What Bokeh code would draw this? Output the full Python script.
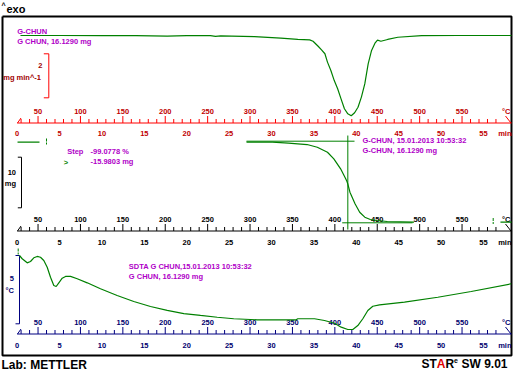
from bokeh.plotting import figure
from bokeh.models import Range1d
from bokeh.embed import file_html
from bokeh.resources import INLINE
from bokeh.core.properties import value

# ---------------- data ----------------
# DTG curve (mg/min) versus time (min)
dtg_time = [0.40, 5.0, 10.0, 14.0, 17.7, 20.0, 22.8, 23.4, 24.0, 28.0, 31.1, 33.1,
            34.5, 34.9, 35.5, 35.9, 36.3, 36.6, 37.0, 37.4, 37.8, 38.2, 38.6, 39.0,
            39.4, 39.8, 40.2, 40.6, 41.0, 41.4, 41.8, 42.2, 42.5, 42.9, 43.7, 44.9,
            47.7, 52.0, 58.3]
dtg_val = [0.00, 0.00, -0.01, -0.01, -0.03, -0.01, -0.01, -0.04, -0.02, -0.05, -0.12, -0.18,
           -0.20, -0.26, -0.49, -0.65, -0.83, -1.21, -1.59, -2.05, -2.42, -2.88, -3.33, -3.56,
           -3.65, -3.51, -3.26, -2.80, -2.20, -1.29, -0.68, -0.35, -0.21, -0.26, -0.18, -0.08,
           -0.01, 0.00, 0.00]

# TGA curve (mg) versus time (min), shown in three pieces
tga_time_start = [0.05, 2.64]
tga_mass_start = [16.13, 16.13]
tga_time = [27.05, 30.1, 32.0, 34.2, 35.4, 36.6, 37.35, 38.15, 38.75, 38.9, 39.0, 39.25,
            39.85, 40.4, 41.0, 41.65, 42.45, 43.65, 46.8]
tga_mass = [16.13, 16.13, 15.93, 15.67, 15.14, 14.15, 12.85, 10.87, 8.90, 8.36, 7.87, 6.25,
            3.96, 2.29, 1.31, 0.85, 0.66, 0.46, 0.32]
tga_time_end = [57.0, 58.3]
tga_mass_end = [0.32, 0.32]

# step evaluation
step_time = 39.0
step_top_mass = 16.33
step_top_span = [27.05, 39.79]
step_bottom_mass = 0.20
step_bottom_span = [38.34, 46.63]
step_vertical_span = [17.45, -1.13]

# SDTA curve (degC) versus time (min)
sdta_time = [0.28, 0.60, 1.19, 1.58, 1.97, 2.37, 2.76, 3.15, 3.55, 3.94, 4.33, 4.61,
             4.92, 5.32, 5.71, 6.30, 7.09, 8.27, 9.83, 11.80, 13.76, 15.73, 17.70, 19.66,
             21.63, 23.60, 25.55, 28.31, 32.91, 33.10, 35.07, 36.25, 37.43, 38.22, 39.00,
             39.59, 40.18, 40.77, 41.36, 41.95, 42.74, 45.68, 49.61, 53.55, 58.27]
sdta_val = [4.78, 4.54, 4.24, 4.34, 4.61, 4.71, 4.65, 4.41, 3.92, 3.18, 2.57, 2.50,
            2.77, 3.11, 3.24, 3.24, 3.07, 2.77, 2.33, 1.84, 1.40, 1.03, 0.74, 0.51,
            0.37, 0.24, 0.13, 0.05, 0.05, 0.13, 0.13, 0.00, -0.20, -0.49, -0.66,
            -0.66, -0.37, 0.13, 0.74, 1.05, 1.15, 1.35, 1.71, 2.13, 2.70]

# ruler ticks and labels
temp_major = [50, 100, 150, 200, 250, 300, 350, 400, 450, 500, 550]
temp_minor = [t for t in range(30, 600, 10) if t % 50 != 0]
time_labels = [0, 5, 10, 15, 20, 25, 30, 35, 40, 45, 50, 55]
HEAT_T0 = 25.3      # degC at t = 0
HEAT_RATE = 10.0    # K/min

# ---------------- figure (frame covers the whole page) ----------------
W, H = 514, 372
p = figure(width=W, height=H, output_backend="svg", toolbar_location=None,
           x_axis_type=None, y_axis_type=None,
           x_range=Range1d(0, W), y_range=Range1d(H, 0))
p.min_border_left = 0
p.min_border_right = 0
p.min_border_top = 0
p.min_border_bottom = 0
p.outline_line_color = None
p.background_fill_color = "white"
p.border_fill_color = "white"

PX_PER_MIN = 8.48
X_T0 = 16.6
t_left = (0 - X_T0) / PX_PER_MIN
t_right = (W - X_T0) / PX_PER_MIN
t_edge = (511 - X_T0) / PX_PER_MIN
p.extra_x_ranges = {
    "time": Range1d(t_left, t_right),
    "temp": Range1d(HEAT_T0 + HEAT_RATE * t_left, HEAT_T0 + HEAT_RATE * t_right),
}
p.extra_y_ranges = {
    "dtg": Range1d((35 - H) / 22.0, 35 / 22.0),
    "mass": Range1d(16.13 - (H - 141.7) / 5.06, 16.13 + 141.7 / 5.06),
    "sdta": Range1d((320 - H) / 13.6, 320 / 13.6),
}

FONT = value("Liberation Sans")
GREEN = "#008000"
PURPLE = "#b000c8"


def txt(x, y, s, color, size="7.5px", align="left", **kw):
    p.text(x=x if isinstance(x, list) else [x], y=y if isinstance(y, list) else [y],
           text=s if isinstance(s, list) else [s], text_color=color, text_font=FONT,
           text_font_style="bold", text_font_size=size, text_align=align,
           text_baseline="middle", **kw)


def ruler(y_line, y_temp, y_time, line_color, temp_color, time_color):
    p.segment(x0=[HEAT_T0], y0=[y_line], x1=[HEAT_T0 + HEAT_RATE * t_edge], y1=[y_line],
              x_range_name="temp", line_color=line_color, line_width=1)
    n = len(temp_minor)
    p.segment(x0=temp_minor, y0=[y_line] * n, x1=temp_minor, y1=[y_line - 4] * n,
              x_range_name="temp", line_color=line_color, line_width=1)
    m = len(temp_major)
    p.segment(x0=temp_major, y0=[y_line] * m, x1=temp_major, y1=[y_line - 7] * m,
              x_range_name="temp", line_color=line_color, line_width=1)
    p.segment(x0=[17, 505], y0=[y_line, y_line - 7], x1=[20.5, 510.5], y1=[y_line - 5, y_line],
              line_color=line_color, line_width=1)
    txt([float(v) for v in temp_major], [y_temp] * m, [str(v) for v in temp_major],
        temp_color, align="center", x_range_name="temp")
    txt(510, y_temp, "°C", temp_color, align="right")
    k = len(time_labels)
    txt([float(v) for v in time_labels], [y_time] * k, [str(v) for v in time_labels],
        time_color, align="center", x_range_name="time")
    txt(511, y_time, "min", time_color, align="right")


# outer box
p.multi_line(xs=[[2, 511, 511, 2, 2]], ys=[[16, 16, 355, 355, 16]],
             line_color="black", line_width=2)

# header / footer
txt(1, 4.5, "^", "black", size="7px")
txt(6, 8.5, "exo", "black", size="11px")
txt(1, 364, "Lab: METTLER", "black", size="12px")
txt(421, 363.5, "ST", "black", size="12px")
txt(436.3, 363.5, "A", "#e00000", size="12px")
txt(445, 363.5, "R", "black", size="12px")
txt(453.5, 360, "e", "black", size="7px")
txt(461, 363.5, "SW 9.01", "black", size="12px")

# rulers
ruler(122.5, 111, 132.5, "#ff0000", "#c00000", "#c00000")
ruler(230.5, 219, 241.5, "black", "black", "black")
ruler(333.5, 322.3, 345, "#000080", "#00006e", "#00006e")

# panel 1 annotations
txt(16.7, 31.3, "G-CHUN", PURPLE)
txt(16.7, 41.3, "G CHUN, 16.1290 mg", PURPLE)
p.multi_line(xs=[[43.3, 48.3, 48.3, 43.3]], ys=[[53.3, 53.3, 97.3, 97.3]],
             line_color="#ff0000", line_width=1)
txt(42, 65, "2", "#a00000", align="right")
txt(40.5, 76.7, "mg min^-1", "#a00000", align="right")

# panel 2 annotations
p.multi_line(xs=[[17.3, 21, 21, 17.3]], ys=[[156.7, 156.7, 207.3, 207.3]],
             line_color="black", line_width=1)
txt(15.5, 171.7, "10", "black", align="right")
txt(15.5, 183.3, "mg", "black", align="right")
txt(66.7, 151, "Step", PURPLE)
txt(90, 151, "-99.0778 %", PURPLE)
txt(90, 161.3, "-15.9803 mg", PURPLE)
txt(63.3, 162, ">", GREEN)
txt(362, 140.3, "G-CHUN, 15.01.2013 10:53:32", PURPLE)
txt(362, 150.3, "G-CHUN, 16.1290 mg", PURPLE)
p.segment(x0=[46, 492.7, 17.7], y0=[138, 217.5, 248], x1=[46, 492.7, 17.7], y1=[144, 223.5, 254],
          line_color=GREEN, line_width=1, line_dash="3 1")

# panel 3 annotations
p.multi_line(xs=[[15, 19, 19, 15]], ys=[[255, 255, 323.3, 323.3]],
             line_color="#000080", line_width=1)
txt(13.5, 277.7, "5", "#00006e", align="right")
txt(13.5, 290, "°C", "#00006e", align="right")
txt(128.3, 266.2, "SDTA G CHUN,15.01.2013 10:53:32", PURPLE)
txt(128.3, 276.2, "G CHUN, 16.1290 mg", PURPLE)

# curves
p.line(dtg_time, dtg_val, x_range_name="time", y_range_name="dtg", line_color=GREEN, line_width=1.2)

p.segment(x0=[step_top_span[0], step_bottom_span[0], step_time],
          y0=[step_top_mass, step_bottom_mass, step_vertical_span[0]],
          x1=[step_top_span[1], step_bottom_span[1], step_time],
          y1=[step_top_mass, step_bottom_mass, step_vertical_span[1]],
          x_range_name="time", y_range_name="mass", line_color=GREEN, line_width=1)
p.line(tga_time_start, tga_mass_start, x_range_name="time", y_range_name="mass",
       line_color=GREEN, line_width=1.2)
p.line(tga_time, tga_mass, x_range_name="time", y_range_name="mass", line_color=GREEN, line_width=1.2)
p.line(tga_time_end, tga_mass_end, x_range_name="time", y_range_name="mass",
       line_color=GREEN, line_width=1.2)

p.line(sdta_time, sdta_val, x_range_name="time", y_range_name="sdta", line_color=GREEN, line_width=1.2)

open("out.html", "w").write(file_html(p, INLINE))
